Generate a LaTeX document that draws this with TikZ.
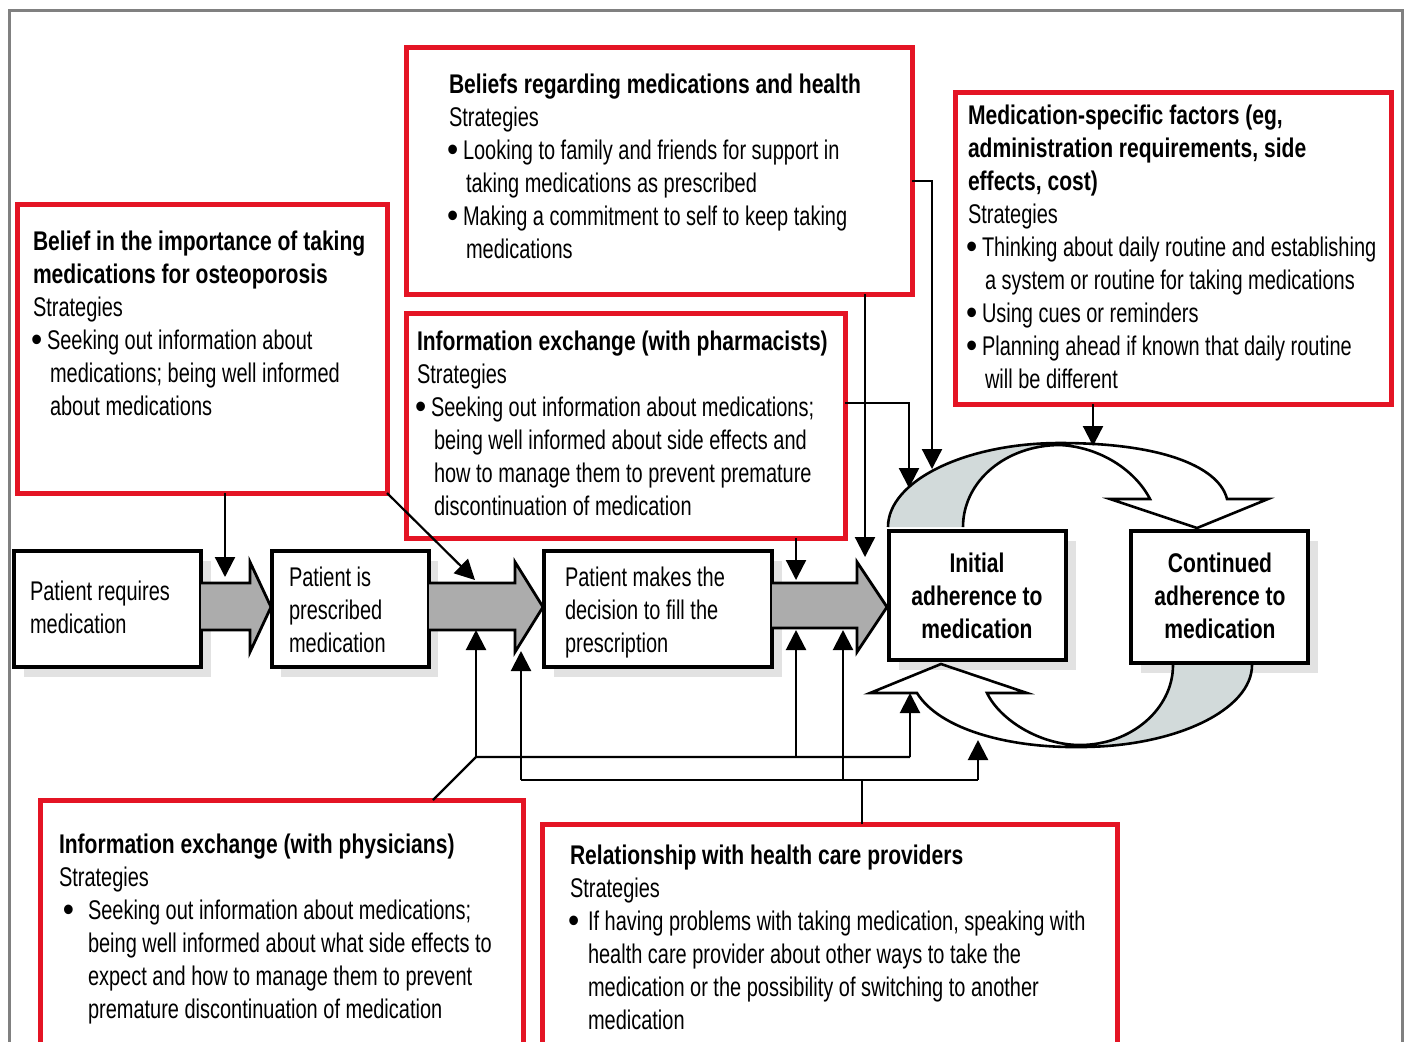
\documentclass[tikz,border=0pt]{standalone}
\usepackage{fontspec}
\setmainfont{Liberation Sans}[FakeStretch=0.74,BoldFeatures={FakeStretch=0.78}]
\usetikzlibrary{arrows.meta,calc}
\definecolor{myred}{RGB}{228,20,36}
\definecolor{arrowgray}{RGB}{172,172,172}
\definecolor{cyclegray}{RGB}{210,218,218}
\definecolor{shadowgray}{RGB}{226,226,226}
\definecolor{framegray}{RGB}{128,128,128}
\newcommand\tfont{\fontsize{13.5}{16.5}\selectfont}
\newcommand\dotb{\hspace*{-1pt}\raisebox{-0.08em}{\scalebox{1.6}[1.3]{\textbullet}}}
\newcommand\bul{\makebox[7pt][l]{\dotb}}
\newcommand\ind{\hspace*{8.5pt}}
\tikzset{
 redbox/.style={draw=myred, line width=2.5pt, anchor=north west, inner sep=0pt, outer sep=0pt, fill=white},
 flowbox/.style={draw=black, line width=1.6pt, anchor=north west, inner sep=0pt, outer sep=0pt, fill=white},
 shadowbox/.style={fill=shadowgray, anchor=north west, inner sep=0pt, outer sep=0pt},
 txt/.style={anchor=north west, inner sep=0pt, outer sep=0pt, align=left, font=\tfont},
 ctxt/.style={anchor=north, inner sep=0pt, outer sep=0pt, align=center, font=\tfont\bfseries},
 conn/.style={line width=1.1pt, -{Triangle[length=10pt,width=10pt]}},
 plainline/.style={line width=1.1pt},
 bigarrow/.style={fill=arrowgray, draw=black, line width=1.4pt, line join=miter},
 cyclepath/.style={draw=black, line width=1.3pt, line join=miter}
}
\begin{document}
\begin{tikzpicture}[x=0.5pt,y=-0.5pt]
\useasboundingbox (0,0) rectangle (1406,1041);
\clip (0,0) rectangle (1406,1041);
\fill[white] (0,0) rectangle (1406,1041);
% outer frame
\draw[framegray, line width=1.5pt] (9,1050) -- (9,10) -- (1402,10) -- (1402,1050);

% shadows
\node[shadowbox, minimum width=93.5pt, minimum height=58pt] (sA) at (24,561) {};
\node[shadowbox, minimum width=78.5pt, minimum height=58pt] (sB) at (281,561) {};
\node[shadowbox, minimum width=114pt, minimum height=58pt] (sC) at (554,561) {};
\node[shadowbox, minimum width=88.5pt, minimum height=64.5pt] (sD) at (899,541) {};
\node[shadowbox, minimum width=88.5pt, minimum height=66pt] (sE) at (1141,541) {};

% flow boxes
\node[flowbox, minimum width=93.5pt, minimum height=58pt] (A) at (14,551) {};
\node[flowbox, minimum width=78.5pt, minimum height=58pt] (B) at (272,551) {};
\node[flowbox, minimum width=114pt, minimum height=58pt] (C) at (544,551) {};
\node[flowbox, minimum width=88.5pt, minimum height=64.5pt] (D) at (889,531) {};
\node[flowbox, minimum width=88.5pt, minimum height=66pt] (E) at (1131,531) {};

% big block arrows
\draw[bigarrow] (201,583) -- (250,583) -- (250,562) -- (271,607) -- (250,652) -- (250,630) -- (201,630);
\draw[bigarrow] (429,583) -- (515,583) -- (515,562) -- (543,607) -- (515,652) -- (515,630) -- (429,630);
\draw[bigarrow] (772,583) -- (857,583) -- (857,562) -- (887,607) -- (857,652) -- (857,628) -- (772,628);

% cycle: top crescent arrow
\fill[cyclegray] (888,527) .. controls (888,481) and (965,443) .. (1060,443)
  .. controls (1006,445) and (963,481) .. (963,527) -- cycle;
\draw[cyclepath] (888,527) .. controls (888,481) and (965,443) .. (1060,443)
  .. controls (1170,443) and (1220,470) .. (1227,499) -- (1268,499) -- (1197,528)
  -- (1110,499) -- (1150,499) .. controls (1135,470) and (1100,447) .. (1060,445)
  .. controls (1006,445) and (963,481) .. (963,527);
% cycle: bottom crescent arrow
\fill[cyclegray] (1252,665) .. controls (1252,710) and (1175,747) .. (1080,747)
  .. controls (1131,745) and (1173,709) .. (1173,665) -- cycle;
\draw[cyclepath] (1252,665) .. controls (1252,710) and (1175,747) .. (1080,747)
  .. controls (1010,748) and (940,730) .. (917,693) -- (870,693) -- (941,664)
  -- (1027,693) -- (987,693) .. controls (1000,720) and (1040,745) .. (1080,745)
  .. controls (1131,745) and (1173,709) .. (1173,665);

% red boxes
\node[redbox, minimum width=185pt, minimum height=144.5pt] (R1) at (17,204) {};
\node[redbox, minimum width=253pt, minimum height=123.5pt] (R2) at (406,47) {};
\node[redbox, minimum width=219.5pt, minimum height=112.5pt] (R3) at (406,313) {};
\node[redbox, minimum width=218pt, minimum height=156pt] (R4) at (955,92) {};
\node[redbox, minimum width=241.5pt, minimum height=150pt] (R5) at (40,800) {};
\node[redbox, minimum width=287.5pt, minimum height=140pt] (R6) at (542,824) {};

% connector coordinates
\coordinate (p2) at (475,580);
\coordinate (p5) at (909,488);
\coordinate (p6) at (932,469);
\coordinate (j1) at (476,757);
\coordinate (j2) at (796,757);
\coordinate (j3) at (910,757);
\coordinate (k0) at (862,780);
\coordinate (k1) at (521,780);
\coordinate (k2) at (843,780);
\coordinate (k3) at (978,780);

% connectors from top boxes
\draw[conn] ([xshift=104pt]R1.south west) -- ++(0,84);
\draw[conn] (R1.south east) -- (p2);
\draw[conn] ([xshift=195pt]R3.south west) -- ++(0,42);
\draw[conn] ([xshift=229.5pt]R2.south west) -- ++(0,263);
\draw[conn] ([yshift=-45pt]R3.north east) -| (p5);
\draw[conn] ([yshift=-67pt]R2.north east) -| (p6);
\draw[conn] ([xshift=69pt]R4.south west) -- ++(0,42);

% connectors from bottom boxes
\draw[plainline] ([xshift=196.5pt]R5.north west) -- (j1) -- (j3);
\draw[conn] (j1) -- ++(0,-127);
\draw[conn] (j2) -- ++(0,-127);
\draw[conn] (j3) -- ++(0,-64);
\draw[plainline] ([xshift=160pt]R6.north west) -- (k0);
\draw[plainline] (k1) -- (k3);
\draw[conn] (k1) -- ++(0,-129);
\draw[conn] (k2) -- ++(0,-150);
\draw[conn] (k3) -- ++(0,-40);

% texts
\node[txt] (tx1) at (33,231) {\textbf{Belief in the importance of taking}\\
 \textbf{medications for osteoporosis}\\ Strategies\\
 \bul Seeking out information about\\ \ind medications; being well informed\\ \ind about medications};
\node[txt] (tx2) at (449,74) {\textbf{Beliefs regarding medications and health}\\ Strategies\\
 \bul Looking to family and friends for support in\\ \ind taking medications as prescribed\\
 \bul Making a commitment to self to keep taking\\ \ind medications};
\node[txt] (tx3) at (417,331) {\textbf{Information exchange (with pharmacists)}\\ Strategies\\
 \bul Seeking out information about medications;\\ \ind being well informed about side effects and\\
 \ind how to manage them to prevent premature\\ \ind discontinuation of medication};
\node[txt] (tx4) at (968,105) {\textbf{Medication-specific factors (eg,}\\
 \textbf{administration requirements, side}\\ \textbf{effects, cost)}\\ Strategies\\
 \bul Thinking about daily routine and establishing\\ \ind a system or routine for taking medications\\
 \bul Using cues or reminders\\ \bul Planning ahead if known that daily routine\\ \ind will be different};
\node[txt] (tx5) at (59,834) {\textbf{Information exchange (with physicians)}\\ Strategies\\
 \hspace*{3pt}\makebox[11.5pt][l]{\dotb}Seeking out information about medications;\\
 \hspace*{14.5pt}being well informed about what side effects to\\
 \hspace*{14.5pt}expect and how to manage them to prevent\\
 \hspace*{14.5pt}premature discontinuation of medication};
\node[txt] (tx6) at (570,845) {\textbf{Relationship with health care providers}\\ Strategies\\
 \makebox[9pt][l]{\dotb}If having problems with taking medication, speaking with\\
 \hspace*{9pt}health care provider about other ways to take the\\
 \hspace*{9pt}medication or the possibility of switching to another\\
 \hspace*{9pt}medication};
\node[txt] (ta) at (30,581) {Patient requires\\ medication};
\node[txt] (tb) at (289,567) {Patient is\\ prescribed\\ medication};
\node[txt] (tc) at (565,567) {Patient makes the\\ decision to fill the\\ prescription};
\node[ctxt] (td) at (977,553) {Initial\\ adherence to\\ medication};
\node[ctxt] (te) at (1220,553) {Continued\\ adherence to\\ medication};
\end{tikzpicture}
\end{document}
